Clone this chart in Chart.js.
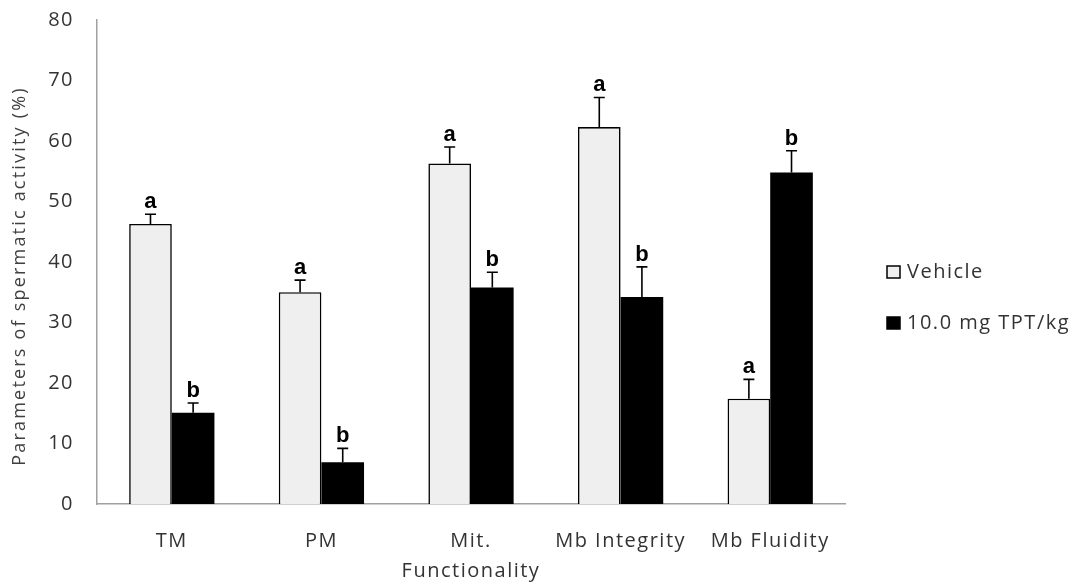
<!DOCTYPE html>
<html>
<head>
<meta charset="utf-8">
<script src="https://cdn.jsdelivr.net/npm/chart.js@4.4.1/dist/chart.umd.min.js"></script>
<style>
  html, body { margin: 0; padding: 0; background: #ffffff; }
  #c { display: block; }
</style>
</head>
<body>
<canvas id="c" width="1087" height="588"></canvas>
<script>
// Sperm functionality parameters (%), mean + SEM
const categories = ['TM', 'PM', 'Mit.', 'Mb Integrity', 'Mb Fluidity'];
const vehicleValues = [46.3, 35.0, 56.3, 62.3, 17.4];
const vehicleErrors = [1.6, 2.0, 2.7, 4.9, 3.2];
const vehicleLetters = ['a', 'a', 'a', 'a', 'a'];
const tptValues = [15.1, 6.9, 35.8, 34.2, 54.8];
const tptErrors = [1.6, 2.3, 2.5, 5.0, 3.6];
const tptLetters = ['b', 'b', 'b', 'b', 'b'];
const yTickValues = [0, 10, 20, 30, 40, 50, 60, 70, 80];
const seriesNames = ['Vehicle', '10.0 mg TPT/kg'];
const yTitle = 'Parameters of spermatic activity (%)';
const xTitle = 'Functionality';

const FONT = "'Open Sans', 'Noto Sans', sans-serif";
const TEXT = '#333333';
const SPACING = '1.5px';

// Slightly tracked-out lettering for every axis label
const trackingPlugin = {
  id: 'tracking',
  beforeDraw(chart) { chart.ctx.letterSpacing = SPACING; },
  afterDraw(chart) { chart.ctx.letterSpacing = '0px'; }
};

// Upward error bars with significance letters above each bar
const errorBarPlugin = {
  id: 'errorBars',
  afterDatasetsDraw(chart) {
    const ctx = chart.ctx;
    const y = chart.scales.y;
    chart.data.datasets.forEach((ds, di) => {
      const meta = chart.getDatasetMeta(di);
      meta.data.forEach((bar, i) => {
        const v = ds.data[i];
        const top = y.getPixelForValue(v + ds.errors[i]);
        const base = y.getPixelForValue(v);
        ctx.save();
        ctx.letterSpacing = '0px';
        ctx.strokeStyle = '#000';
        ctx.lineWidth = 1.6;
        ctx.beginPath();
        ctx.moveTo(bar.x, base);
        ctx.lineTo(bar.x, top);
        ctx.moveTo(bar.x - 5.5, top);
        ctx.lineTo(bar.x + 5.5, top);
        ctx.stroke();
        ctx.fillStyle = '#000';
        ctx.font = "bold 22px 'Liberation Sans', Arial, sans-serif";
        ctx.textAlign = 'center';
        ctx.textBaseline = 'alphabetic';
        ctx.fillText(ds.letters[i], bar.x, top - 6);
        ctx.restore();
      });
    });
  }
};

// Rotated y-axis title and the legend to the right of the plot
const sideTextPlugin = {
  id: 'sideText',
  afterDraw(chart) {
    const ctx = chart.ctx;
    ctx.save();
    ctx.translate(20, 276);
    ctx.rotate(-Math.PI / 2);
    ctx.letterSpacing = '2.2px';
    ctx.fillStyle = '#404040';
    ctx.font = '18px ' + FONT;
    ctx.textAlign = 'center';
    ctx.textBaseline = 'middle';
    ctx.fillText(yTitle, 0, 0);
    ctx.restore();

    const rows = [272, 323];
    ctx.save();
    chart.data.datasets.forEach((ds, di) => {
      const cy = rows[di];
      ctx.fillStyle = ds.backgroundColor;
      ctx.fillRect(887, cy - 6, 13, 12);
      ctx.strokeStyle = '#000';
      ctx.lineWidth = 1.5;
      ctx.strokeRect(887, cy - 6, 13, 12);
      ctx.letterSpacing = SPACING;
      ctx.fillStyle = TEXT;
      ctx.font = '20px ' + FONT;
      ctx.textAlign = 'left';
      ctx.textBaseline = 'middle';
      ctx.fillText(ds.label, 907, cy);
    });
    ctx.restore();
  }
};

new Chart(document.getElementById('c'), {
  type: 'bar',
  data: {
    labels: categories,
    datasets: [
      {
        label: seriesNames[0],
        data: vehicleValues,
        errors: vehicleErrors,
        letters: vehicleLetters,
        backgroundColor: '#efefef',
        borderColor: '#000000',
        borderWidth: 1.6,
        borderSkipped: 'bottom'
      },
      {
        label: seriesNames[1],
        data: tptValues,
        errors: tptErrors,
        letters: tptLetters,
        backgroundColor: '#000000',
        borderColor: '#000000',
        borderWidth: 0
      }
    ]
  },
  options: {
    responsive: false,
    animation: false,
    devicePixelRatio: 1,
    categoryPercentage: 0.57,
    barPercentage: 1.0,
    layout: { padding: { top: 0, right: 242, left: 0, bottom: 0 } },
    plugins: {
      legend: { display: false },
      tooltip: { enabled: false }
    },
    scales: {
      x: {
        grid: { display: false, drawTicks: false },
        border: { display: true, color: '#a0a0a0', width: 1.5 },
        ticks: { color: TEXT, font: { family: FONT, size: 20 }, padding: 25 },
        title: {
          display: true,
          text: xTitle,
          color: TEXT,
          font: { family: FONT, size: 20 },
          padding: { top: 0, bottom: 5 }
        },
        afterFit(scale) { scale.height = 84; }
      },
      y: {
        min: 0,
        max: 80,
        afterBuildTicks(scale) { scale.ticks = yTickValues.map(v => ({ value: v })); },
        grid: { display: false, drawTicks: false },
        border: { display: true, color: '#a0a0a0', width: 1.5 },
        ticks: { color: TEXT, font: { family: FONT, size: 20 }, padding: 23 },
        title: { display: false },
        afterFit(scale) {
          scale.width = 97;
          scale.paddingTop = 20;
        }
      }
    }
  },
  plugins: [trackingPlugin, errorBarPlugin, sideTextPlugin]
});
</script>
</body>
</html>
